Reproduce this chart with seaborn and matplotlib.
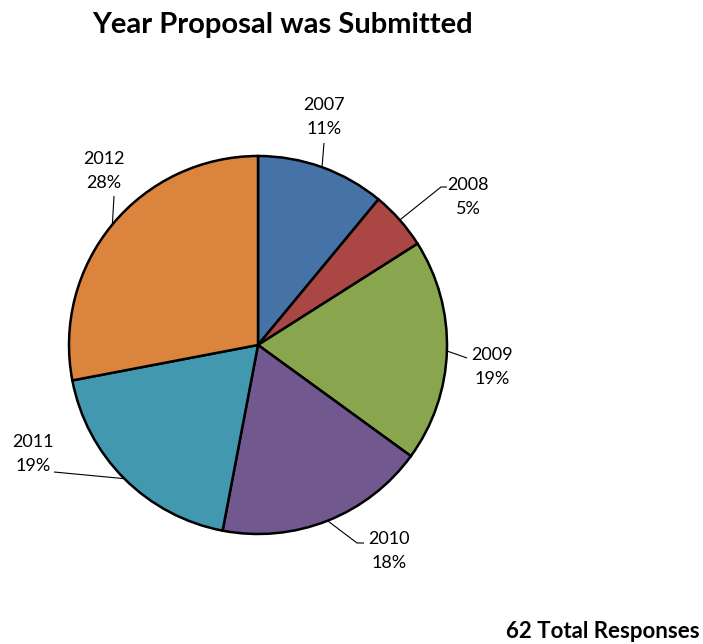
import numpy as np
import matplotlib
matplotlib.use("Agg")
import matplotlib.pyplot as plt
import seaborn as sns

# Share of responses by submission year (62 responses in total)
years = ["2007", "2008", "2009", "2010", "2011", "2012"]
shares = [11, 5, 19, 18, 19, 28]
total_responses = 62
colors = ["#4572A7", "#AA4643", "#89A54E", "#71588F", "#4198AF", "#DB843D"]

sns.set_theme(style="white")
plt.rcParams["font.family"] = ["Lato", "DejaVu Sans"]

W, H = 703, 644
fig = plt.figure(figsize=(W / 100, H / 100), dpi=100)
ax = fig.add_axes([0, 0, 1, 1])

cx, cy, R = 258, H - 345, 189
palette = sns.color_palette(colors)
wedges, _ = ax.pie(shares, colors=palette, startangle=90, counterclock=False,
                   center=(cx, cy), radius=R, frame=True,
                   wedgeprops=dict(edgecolor="black", linewidth=1.8))
ax.set_xlim(0, W)
ax.set_ylim(0, H)
ax.set_aspect("equal")
ax.set_axis_off()

# label placement (pixel offsets, y measured downward): text centre and leader-line tail
label_pos = {
    "2007": ((324, 117), [(324, 143)]),
    "2008": ((468, 197), [(441, 187), (447, 187)]),
    "2009": ((492, 367), [(467, 358)]),
    "2010": ((389, 551), [(357, 543), (364, 543)]),
    "2011": ((33, 454), [(54, 472)]),
    "2012": ((104, 171), [(114, 196)]),
}

for w, yr, s in zip(wedges, years, shares):
    mid = np.deg2rad((w.theta1 + w.theta2) / 2)
    ax0 = cx + R * np.cos(mid)
    ay0 = cy + R * np.sin(mid)
    (tx, ty), tail = label_pos[yr]
    xs = [ax0] + [p[0] for p in tail]
    ys = [ay0] + [H - p[1] for p in tail]
    ax.plot(xs, ys, color="black", lw=0.8, solid_capstyle="butt")
    ax.text(tx, H - ty, f"{yr}\n{s}%", ha="center", va="center",
            fontsize=13, linespacing=1.65, color="black")

fig.text(282 / W, 1 - 25 / H, "Year Proposal was Submitted", ha="center",
         va="center", fontsize=21, fontweight="bold", color="black")
fig.text(700 / W, 1 - 631 / H, f"{total_responses} Total Responses", ha="right",
         va="center", fontsize=16, fontweight="bold", color="black")

fig.savefig("out.png", dpi=100)
